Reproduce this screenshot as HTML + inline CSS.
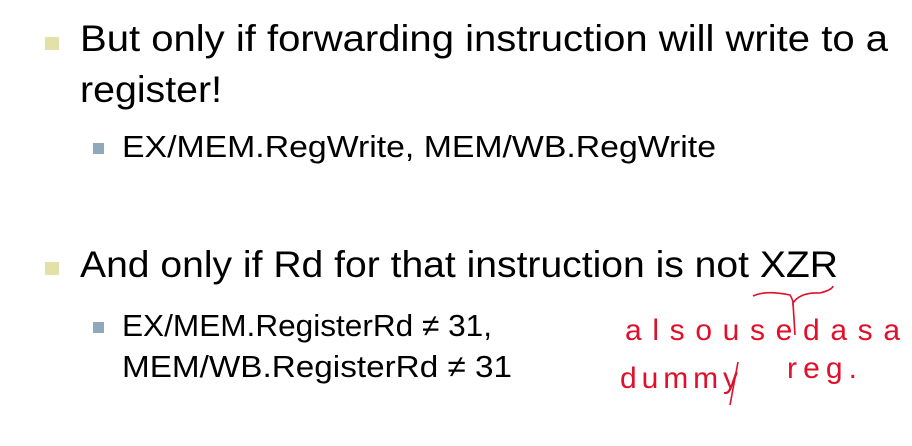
<!DOCTYPE html>
<html><head><meta charset="utf-8"><style>
html,body{margin:0;padding:0;background:#fff;width:912px;height:446px;overflow:hidden}
svg{display:block}
text{font-family:"Liberation Sans",sans-serif;fill:#000}
.h{font-family:"Liberation Sans",sans-serif;fill:#e0102a;font-size:30px}
</style></head><body>
<svg width="912" height="446" viewBox="0 0 912 446">
<rect x="45" y="37" width="14" height="13" fill="#e3e1a8"/>
<text x="80" y="51" font-size="37" textLength="808" lengthAdjust="spacingAndGlyphs">But only if forwarding instruction will write to a</text>
<text x="80" y="102" font-size="37" textLength="142" lengthAdjust="spacingAndGlyphs">register!</text>
<rect x="93" y="143" width="11" height="11" fill="#8fa9bb"/>
<text x="122" y="157" font-size="31" textLength="594" lengthAdjust="spacingAndGlyphs">EX/MEM.RegWrite, MEM/WB.RegWrite</text>
<rect x="45" y="262" width="14" height="13" fill="#e3e1a8"/>
<text x="80" y="277" font-size="37" textLength="758" lengthAdjust="spacingAndGlyphs">And only if Rd for that instruction is not XZR</text>
<rect x="93" y="322" width="11" height="11" fill="#8fa9bb"/>
<text x="122" y="336" font-size="31" textLength="370" lengthAdjust="spacingAndGlyphs">EX/MEM.RegisterRd ≠ 31,</text>
<text x="122" y="377" font-size="31" textLength="390" lengthAdjust="spacingAndGlyphs">MEM/WB.RegisterRd ≠ 31</text>
<g fill="none" stroke="#e0102a" stroke-width="1.6">
<path d="M753 296 Q765 290 790 295 Q793 300 793 303 Q800 292 820 293 Q832 290 833 286"/>
<path d="M793 303 L795 335"/>
<path d="M738 362 L730 405"/>
</g>
<text class="h" x="625" y="340" textLength="275" lengthAdjust="spacing" font-size="30">a l s o   u s e d   a s a</text>
<text class="h" x="620" y="388" textLength="118" lengthAdjust="spacing" font-size="30">d u m m y</text>
<text class="h" x="787" y="378" textLength="70" lengthAdjust="spacing" font-size="30">reg.</text>
</svg>
</body></html>
